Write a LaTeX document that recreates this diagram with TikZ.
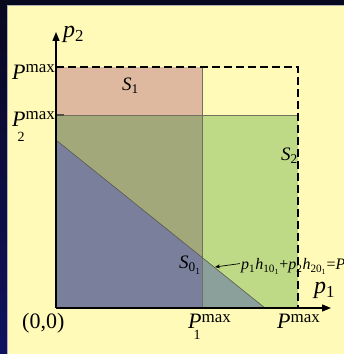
\documentclass[tikz,border=0pt]{standalone}
\usepackage{fontspec}
\setmainfont{Liberation Serif}
\usetikzlibrary{arrows.meta, positioning}

\definecolor{bgyellow}{RGB}{255,250,183}
\definecolor{frametop}{RGB}{8,8,30}
\definecolor{framebot}{RGB}{16,18,96}
\definecolor{pinkS}{RGB}{222,185,160}
\definecolor{greenS}{RGB}{190,218,134}
\definecolor{oliveS}{RGB}{163,168,122}
\definecolor{blueS}{RGB}{122,127,156}
\definecolor{tealS}{RGB}{139,160,154}
\definecolor{rimgray}{RGB}{112,112,96}

% P with a "max" superscript and an optional subscript
\newcommand{\Pmax}[2][12pt]{\textit{P}\llap{\raisebox{-#1}{\fontsize{14}{14}\selectfont #2}\kern1pt}\raisebox{7pt}{\fontsize{17}{17}\selectfont max}}

\begin{document}
\begin{tikzpicture}[
    x=1pt, y=1pt,
    every node/.style={inner sep=0pt, font=\fontsize{22}{22}\selectfont},
    axisfont/.style={font=\fontsize{24}{24}\selectfont},
    setfont/.style={font=\fontsize{19}{19}\selectfont},
    axisline/.style={line width=1.4pt, -{Triangle[length=9pt,width=7pt]}},
    limitline/.style={line width=1.2pt, dash pattern=on 8pt off 4pt},
    rimline/.style={rimgray, line width=0.8pt}
  ]
  \useasboundingbox (0,0) rectangle (344,354);

  % Frame and background
  \shade[top color=frametop, bottom color=framebot] (0,0) rectangle (344,354);
  \fill[bgyellow] (7,0) rectangle (344,349);
  \draw[gray!60, line width=0.6pt] (7,0) -- (7,349) -- (344,349);

  % Key points
  \coordinate (O) at (56,46);
  \coordinate (ytip) at (56,322);
  \coordinate (xtip) at (331,46);
  \coordinate (p1b) at (202,46);
  \coordinate (pb) at (298,46);
  \coordinate (p2l) at (56,239);
  \coordinate (pl) at (56,287);
  \coordinate (p1t) at (202,287);
  \coordinate (pt) at (298,287);
  \coordinate (p2r) at (298,239);
  \coordinate (tri1) at (56,214);
  \coordinate (tri2) at (265,46);

  % Regions S1 and S2
  \fill[greenS] (p1b) rectangle (p2r);
  \fill[pinkS] (p2l) rectangle (p1t);
  \fill[oliveS] (O) rectangle (202,239);

  % Region S0_1
  \begin{scope}
    \clip (O) rectangle (p1t);
    \fill[blueS] (O) -- (tri1) -- (tri2) -- cycle;
  \end{scope}
  \begin{scope}
    \clip (p1b) rectangle (pt);
    \fill[tealS] (O) -- (tri1) -- (tri2) -- cycle;
  \end{scope}

  % Region borders
  \draw[rimline] (p2l) -- (p2r);
  \draw[rimline] (p1b) -- (p1t);
  \draw[rimgray!80!black, line width=0.6pt] (tri1) -- (tri2);
  \draw[line width=1.2pt, rimgray!70!black] (p2l) -- ++(8,0);

  % Limits P^max
  \draw[limitline] (pl) -- (pt) -- (pb);

  % Axes
  \draw[axisline] (O) -- (ytip);
  \draw[axisline] (O) -- (xtip);

  % Axis labels
  \node[axisfont, anchor=base west] (lblp2) at (63,316) {\textit{p}\textsubscript{2}};
  \node[axisfont, anchor=base west] (lblp1) at (314,60) {\textit{p}\textsubscript{1}};
  \node[anchor=base west] (origin) at (22,25) {(0,0)};
  \node[anchor=base east] (lblPy) at (55,274) {\Pmax{}};
  \node[anchor=base east] (lblP2) at (55,227) {\Pmax[15pt]{2}};
  \node[anchor=base west] (lblP1) at (188,25) {\Pmax[10pt]{1}};
  \node[anchor=base west] (lblPx) at (277,25) {\Pmax{}};

  % Set labels
  \node[setfont, anchor=base west] (lblS1) at (122,263) {\textit{S}\textsubscript{1}};
  \node[setfont, anchor=base west] (lblS2) at (281,193) {\textit{S}\textsubscript{2}};
  \node[setfont, anchor=base west] (lblS0) at (179,85) {\textit{S}\textsubscript{0\textsubscript{1}}};

  % Boundary line equation
  \coordinate (hit) at (215,87);
  \node[font=\fontsize{16}{16}\selectfont, anchor=base west] (eq) at (241,84)
    {\textit{p}\textsubscript{1}\textit{h}\textsubscript{10\textsubscript{1}}+\textit{p}\textsubscript{2}\textit{h}\textsubscript{20\textsubscript{1}}=\textit{P}\textsubscript{1}};
  \draw[line width=0.7pt, -{Stealth[length=5pt,width=4pt]}] (eq.west) ++(-1,3) -- (hit);
\end{tikzpicture}
\end{document}
